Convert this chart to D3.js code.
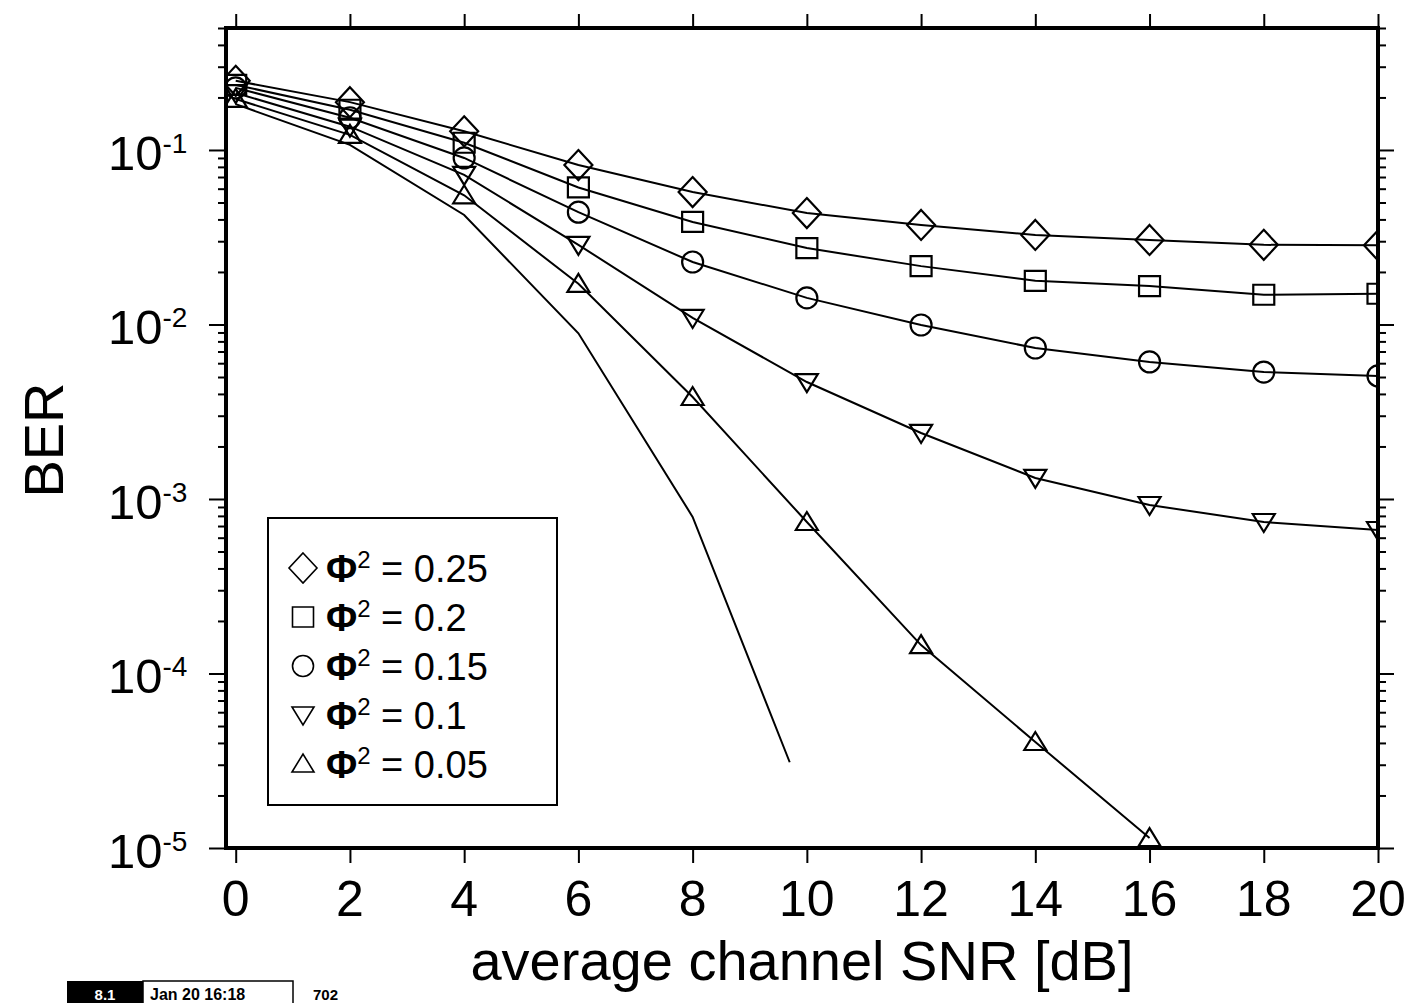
<!DOCTYPE html>
<html>
<head>
<meta charset="utf-8">
<script src="https://cdn.jsdelivr.net/npm/d3@7"></script>
<style>
  html, body { margin: 0; padding: 0; background: #fff; }
  svg { display: block; }
  text { font-family: "Liberation Sans", Arial, Helvetica, sans-serif; fill: #000; }
</style>
</head>
<body>
<svg id="chart" width="1409" height="1003"></svg>
<script>
// ---------------- data ----------------
const snr = [0, 2, 4, 6, 8, 10, 12, 14, 16, 18, 20];
const ber025 = [0.249, 0.188, 0.128, 0.082, 0.0574, 0.0435, 0.0372, 0.0326, 0.0305, 0.0286, 0.0284];
const ber020 = [0.236, 0.170, 0.110, 0.061, 0.0387, 0.0274, 0.0216, 0.0178, 0.0166, 0.0148, 0.0150];
const ber015 = [0.227, 0.153, 0.090, 0.044, 0.0228, 0.0142, 0.00993, 0.00733, 0.0061, 0.00534, 0.00507];
const ber010 = [0.212, 0.136, 0.072, 0.0286, 0.0109, 0.00468, 0.00239, 0.00132, 0.000924, 0.000738, 0.000664];
const snr005 = [0, 2, 4, 6, 8, 10, 12, 14, 16];
const ber005 = [0.196, 0.122, 0.055, 0.0171, 0.00384, 0.000738, 0.0001455, 0.0000405, 0.0000114];
// curve without markers
const snrRef = [0, 2, 4, 6, 8, 9.7];
const berRef = [0.183, 0.107, 0.0424, 0.0089, 0.00079, 0.000031];

const legendLabels = ["0.25", "0.2", "0.15", "0.1", "0.05"];
const markerTypes = ["diamond", "square", "circle", "down", "up"];
const xTickValues = [0, 2, 4, 6, 8, 10, 12, 14, 16, 18, 20];
const yMajorExps = [-5, -4, -3, -2, -1];
const xTitle = "average channel SNR [dB]";
const yTitle = "BER";

// ---------------- layout ----------------
const svg = d3.select("#chart");
const L = 226, R = 1378, T = 28, B = 848;
const x = d3.scaleLinear().domain([-0.17, 20]).range([L, R]);
const y = d3.scaleLog().domain([1e-5, 0.5]).range([B, T]);

const series = [
  { xs: snr, ys: ber025, m: markerTypes[0] },
  { xs: snr, ys: ber020, m: markerTypes[1] },
  { xs: snr, ys: ber015, m: markerTypes[2] },
  { xs: snr, ys: ber010, m: markerTypes[3] },
  { xs: snr005, ys: ber005, m: markerTypes[4] }
];

function markerPath(type) {
  switch (type) {
    case "diamond": return "M0,-15L14,0L0,15L-14,0Z";
    case "square": return "M-10.5,-10L10.5,-10L10.5,10L-10.5,10Z";
    case "circle": return "M10.5,0A10.5,10.5 0 1,1 -10.5,0A10.5,10.5 0 1,1 10.5,0Z";
    case "down": return "M-11,-8L11,-8L0,10Z";
    case "up": return "M-11,8L11,8L0,-10Z";
  }
}

svg.append("defs").append("clipPath").attr("id", "plotclip")
  .append("rect").attr("x", L).attr("y", T).attr("width", R - L).attr("height", B - T);

const plot = svg.append("g").attr("clip-path", "url(#plotclip)");
const line = d3.line().x(d => x(d[0])).y(d => y(d[1]));

// unmarked curve
plot.append("path")
  .datum(d3.zip(snrRef, berRef))
  .attr("d", line).attr("fill", "none").attr("stroke", "#000").attr("stroke-width", 2);

series.forEach(s => {
  const pts = d3.zip(s.xs, s.ys);
  plot.append("path").datum(pts).attr("d", line)
    .attr("fill", "none").attr("stroke", "#000").attr("stroke-width", 2);
  plot.selectAll(null).data(pts).enter().append("path")
    .attr("transform", d => `translate(${x(d[0])},${y(d[1])})`)
    .attr("d", markerPath(s.m))
    .attr("fill", "none").attr("stroke", "#000").attr("stroke-width", 2.2);
});

// ---------------- axes ----------------
const minorVals = [];
yMajorExps.concat([0]).forEach(e => {
  for (let k = 2; k <= 9; k++) {
    const v = k * Math.pow(10, e - 1);
    if (v > 1e-5 && v <= 0.5 + 1e-9) minorVals.push(v);
  }
});
const majorVals = yMajorExps.map(e => Math.pow(10, e));

function styleAxis(g) {
  g.select(".domain").remove();
  g.selectAll(".tick line").attr("stroke", "#000").attr("stroke-width", 2);
}
svg.append("g").attr("transform", `translate(${L},0)`)
  .call(d3.axisLeft(y).tickValues(minorVals).tickSize(8).tickFormat("")).call(styleAxis);
svg.append("g").attr("transform", `translate(${L},0)`)
  .call(d3.axisLeft(y).tickValues(majorVals).tickSize(17).tickFormat("")).call(styleAxis);
svg.append("g").attr("transform", `translate(${R},0)`)
  .call(d3.axisRight(y).tickValues(minorVals).tickSize(8).tickFormat("")).call(styleAxis);
svg.append("g").attr("transform", `translate(${R},0)`)
  .call(d3.axisRight(y).tickValues(majorVals).tickSize(16).tickFormat("")).call(styleAxis);
svg.append("g").attr("transform", `translate(0,${B})`)
  .call(d3.axisBottom(x).tickValues(xTickValues).tickSize(15).tickFormat("")).call(styleAxis);
svg.append("g").attr("transform", `translate(0,${T})`)
  .call(d3.axisTop(x).tickValues(xTickValues).tickSize(14).tickFormat("")).call(styleAxis);

// frame
svg.append("rect").attr("x", L).attr("y", T).attr("width", R - L).attr("height", B - T)
  .attr("fill", "none").attr("stroke", "#000").attr("stroke-width", 4);

// x tick labels
svg.selectAll(null).data(xTickValues).enter().append("text")
  .attr("x", d => x(d)).attr("y", 916).attr("text-anchor", "middle")
  .attr("font-size", 50).text(d => d);

// y tick labels
yMajorExps.forEach(e => {
  const t = svg.append("text").attr("x", 108).attr("y", y(Math.pow(10, e)) + 20).attr("font-size", 49);
  t.append("tspan").text("10");
  t.append("tspan").attr("font-size", 28).attr("dy", -17).text("-" + Math.abs(e));
});

// axis titles
svg.append("text").attr("x", 802).attr("y", 980).attr("text-anchor", "middle")
  .attr("font-size", 56).text(xTitle);
svg.append("text").attr("transform", "translate(63,440) rotate(-90)")
  .attr("text-anchor", "middle").attr("font-size", 56).text(yTitle);

// ---------------- legend ----------------
svg.append("rect").attr("x", 268).attr("y", 518).attr("width", 289).attr("height", 287)
  .attr("fill", "#fff").attr("stroke", "#000").attr("stroke-width", 2);
legendLabels.forEach((lab, i) => {
  const cy = 568 + i * 49;
  svg.append("path").attr("transform", `translate(303,${cy})`).attr("d", markerPath(markerTypes[i]))
    .attr("fill", "none").attr("stroke", "#000").attr("stroke-width", 1.6);
  const t = svg.append("text").attr("x", 326).attr("y", cy + 14).attr("font-size", 38);
  t.append("tspan").attr("font-weight", "bold").text("\u03A6");
  t.append("tspan").attr("font-size", 24).attr("dy", -14).text("2");
  t.append("tspan").attr("dy", 14).text(" = " + lab);
});

// ---------------- print stamp ----------------
svg.append("rect").attr("x", 67).attr("y", 981).attr("width", 76).attr("height", 24).attr("fill", "#000");
svg.append("text").attr("x", 105).attr("y", 1000).attr("text-anchor", "middle").attr("font-size", 15)
  .attr("font-weight", "bold").style("fill", "#fff").text("8.1");
svg.append("rect").attr("x", 143).attr("y", 981).attr("width", 150).attr("height", 24)
  .attr("fill", "#fff").attr("stroke", "#000").attr("stroke-width", 1.5);
svg.append("text").attr("x", 150).attr("y", 1000).attr("font-size", 16).attr("font-weight", "bold")
  .text("Jan 20 16:18");
svg.append("text").attr("x", 313).attr("y", 1000).attr("font-size", 15).attr("font-weight", "bold").text("702");
</script>
</body>
</html>
